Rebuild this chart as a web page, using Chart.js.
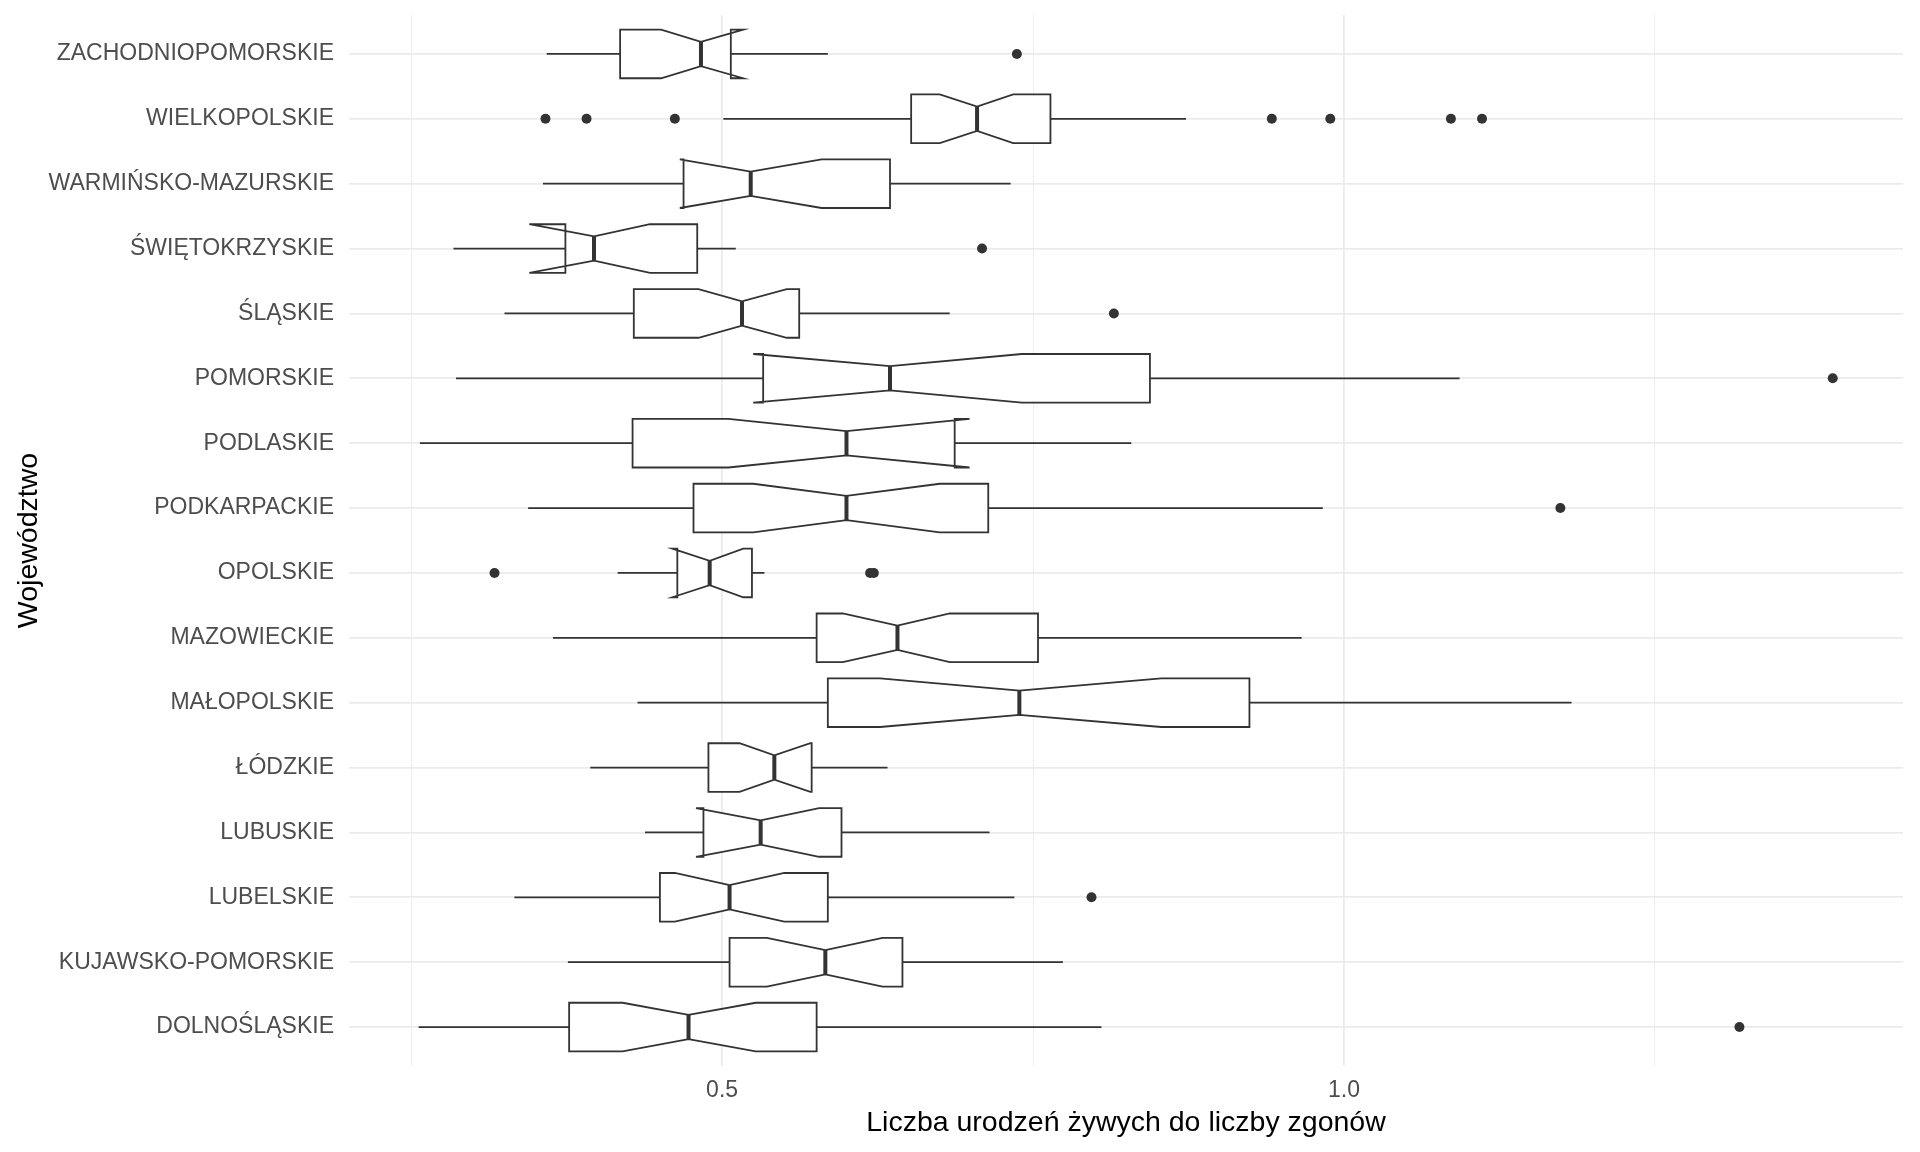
<!DOCTYPE html>
<html>
<head>
<meta charset="utf-8">
<script src="https://cdn.jsdelivr.net/npm/chart.js@4"></script>
<style>
  html, body { margin: 0; padding: 0; background: #ffffff; }
  canvas { display: block; }
</style>
</head>
<body>
<canvas id="chart" width="1920" height="1152" style="width:1920px;height:1152px"></canvas>
<script>
// Województwa, od góry do dołu wykresu
const categories = ['ZACHODNIOPOMORSKIE', 'WIELKOPOLSKIE', 'WARMIŃSKO-MAZURSKIE', 'ŚWIĘTOKRZYSKIE',
    'ŚLĄSKIE', 'POMORSKIE', 'PODLASKIE', 'PODKARPACKIE', 'OPOLSKIE', 'MAZOWIECKIE',
    'MAŁOPOLSKIE', 'ŁÓDZKIE', 'LUBUSKIE', 'LUBELSKIE', 'KUJAWSKO-POMORSKIE', 'DOLNOŚLĄSKIE'];

// statystyki pudełek
const whiskerLow  = [0.359, 0.501, 0.356, 0.284, 0.325, 0.286, 0.257, 0.344, 0.416, 0.364, 0.432, 0.394, 0.438, 0.333, 0.376, 0.256];
const q1          = [0.418, 0.652, 0.469, 0.374, 0.429, 0.533, 0.428, 0.477, 0.464, 0.576, 0.585, 0.489, 0.485, 0.450, 0.506, 0.377];
const notchLow    = [0.451, 0.675, 0.466, 0.345, 0.481, 0.525, 0.505, 0.525, 0.460, 0.597, 0.627, 0.514, 0.479, 0.462, 0.536, 0.420];
const median      = [0.483, 0.705, 0.523, 0.397, 0.516, 0.635, 0.600, 0.600, 0.490, 0.641, 0.739, 0.542, 0.531, 0.506, 0.583, 0.473];
const notchHigh   = [0.517, 0.734, 0.580, 0.442, 0.552, 0.741, 0.699, 0.675, 0.517, 0.683, 0.853, 0.571, 0.578, 0.550, 0.629, 0.527];
const q3          = [0.507, 0.764, 0.635, 0.480, 0.562, 0.844, 0.687, 0.714, 0.524, 0.754, 0.924, 0.572, 0.596, 0.585, 0.645, 0.576];
const whiskerHigh = [0.585, 0.873, 0.732, 0.511, 0.683, 1.093, 0.829, 0.983, 0.534, 0.966, 1.183, 0.633, 0.715, 0.735, 0.774, 0.805];

const outliers = [
    [0.737],
    [0.358, 0.391, 0.462, 0.942, 0.989, 1.086, 1.111],
    [],
    [0.709],
    [0.815],
    [1.393],
    [],
    [1.174],
    [0.317, 0.619, 0.622],
    [],
    [],
    [],
    [],
    [0.797],
    [],
    [1.318]
];

// osie
const xMajorTicks = [0.5, 1.0];
const xMinorTicks = [0.25, 0.75, 1.25];

const outlierPoints = [];
outliers.forEach((vals, i) => vals.forEach(v => outlierPoints.push({ x: v, y: i })));

const lineColor = '#333333';

// rysuje wąsy i pudełka z wcięciem (notch) według skal wykresu
const notchedBoxPlugin = {
    id: 'notchedBox',
    beforeDatasetsDraw(chart) {
        const ctx = chart.ctx;
        const xs = chart.scales.x;
        const ys = chart.scales.y;
        ctx.save();
        ctx.strokeStyle = lineColor;
        categories.forEach((c, i) => {
            const y = ys.getPixelForValue(i);
            const h = Math.abs(ys.getPixelForValue(i + 0.375) - y);
            const px = v => xs.getPixelForValue(v);

            // wąsy
            ctx.lineWidth = 1.8;
            ctx.beginPath();
            ctx.moveTo(px(whiskerLow[i]), y);
            ctx.lineTo(px(q1[i]), y);
            ctx.moveTo(px(q3[i]), y);
            ctx.lineTo(px(whiskerHigh[i]), y);
            ctx.stroke();

            // pudełko
            ctx.beginPath();
            ctx.moveTo(px(q1[i]), y - h);
            ctx.lineTo(px(notchLow[i]), y - h);
            ctx.lineTo(px(median[i]), y - h / 2);
            ctx.lineTo(px(notchHigh[i]), y - h);
            ctx.lineTo(px(q3[i]), y - h);
            ctx.lineTo(px(q3[i]), y + h);
            ctx.lineTo(px(notchHigh[i]), y + h);
            ctx.lineTo(px(median[i]), y + h / 2);
            ctx.lineTo(px(notchLow[i]), y + h);
            ctx.lineTo(px(q1[i]), y + h);
            ctx.closePath();
            ctx.fillStyle = '#ffffff';
            ctx.fill();
            ctx.lineJoin = 'miter';
            ctx.stroke();

            // mediana
            ctx.lineWidth = 4;
            ctx.beginPath();
            ctx.moveTo(px(median[i]), y - h / 2);
            ctx.lineTo(px(median[i]), y + h / 2);
            ctx.stroke();
        });
        ctx.restore();
    }
};

const ctx = document.getElementById('chart').getContext('2d');
new Chart(ctx, {
    type: 'scatter',
    data: {
        datasets: [{
            data: outlierPoints,
            pointRadius: 5,
            pointHoverRadius: 5,
            pointBackgroundColor: lineColor,
            pointBorderWidth: 0
        }]
    },
    options: {
        responsive: false,
        animation: false,
        devicePixelRatio: 1,
        layout: { padding: { top: 15, right: 17, left: 0, bottom: 0 } },
        plugins: {
            legend: { display: false },
            tooltip: { enabled: false }
        },
        scales: {
            x: {
                type: 'linear',
                min: 0.2,
                max: 1.4495,
                afterBuildTicks: scale => {
                    scale.ticks = xMinorTicks.concat(xMajorTicks).sort((a, b) => a - b).map(v => ({ value: v }));
                },
                afterFit: scale => {
                    scale.height = 86;
                    scale.paddingLeft = 0;
                    scale.paddingRight = 0;
                },
                ticks: {
                    autoSkip: false,
                    maxRotation: 0,
                    padding: 11,
                    color: '#4D4D4D',
                    font: { family: 'Liberation Sans, Arial, sans-serif', size: 23 },
                    callback: v => xMajorTicks.includes(v) ? v.toFixed(1) : ''
                },
                grid: {
                    drawTicks: false,
                    color: '#EBEBEB',
                    lineWidth: c => (c.tick && xMajorTicks.includes(c.tick.value)) ? 1.8 : 0.9
                },
                border: { display: false },
                title: {
                    display: true,
                    text: 'Liczba urodzeń żywych do liczby zgonów',
                    color: '#000000',
                    font: { family: 'Liberation Sans, Arial, sans-serif', size: 28.5 },
                    padding: { top: 0, bottom: 12 }
                }
            },
            y: {
                type: 'linear',
                reverse: true,
                min: -0.6,
                max: 15.6,
                afterBuildTicks: scale => {
                    scale.ticks = categories.map((c, i) => ({ value: i }));
                },
                afterFit: scale => {
                    scale.width = 349;
                    scale.paddingTop = 0;
                    scale.paddingBottom = 0;
                },
                ticks: {
                    autoSkip: false,
                    padding: 15,
                    color: '#4D4D4D',
                    font: { family: 'Liberation Sans, Arial, sans-serif', size: 23 },
                    callback: v => categories[v]
                },
                grid: {
                    drawTicks: false,
                    color: '#EBEBEB',
                    lineWidth: 1.8
                },
                border: { display: false },
                title: {
                    display: true,
                    text: 'Województwo',
                    color: '#000000',
                    font: { family: 'Liberation Sans, Arial, sans-serif', size: 28.5 },
                    padding: { top: 12, bottom: 0 }
                }
            }
        }
    },
    plugins: [notchedBoxPlugin]
});
</script>
</body>
</html>
